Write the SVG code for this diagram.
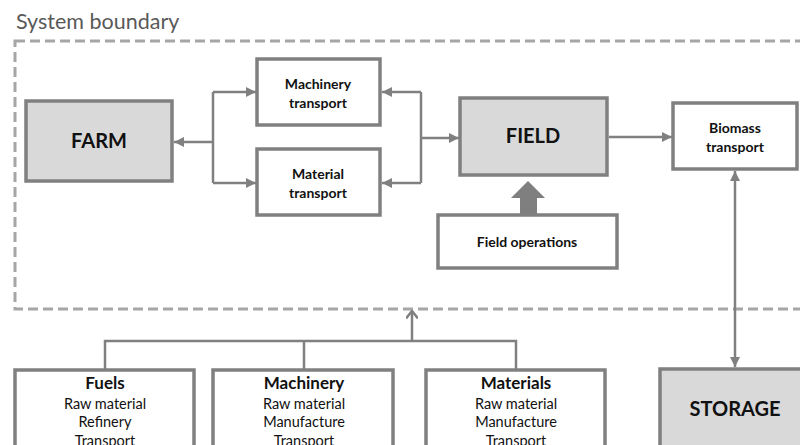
<svg xmlns="http://www.w3.org/2000/svg" width="800" height="445" viewBox="0 0 800 445">
<defs>
<style>
.box{fill:#ffffff;stroke:#808080;stroke-width:3.5}
.gbox{fill:#d9d9d9;stroke:#808080;stroke-width:3.5}
.ln{fill:none;stroke:#808080;stroke-width:2.5}
.t{font-family:Lato,"Open Sans","Liberation Sans",sans-serif;fill:#111;text-anchor:middle}
.b{font-weight:bold}
</style>
<marker id="ah" viewBox="0 0 10 10" refX="10" refY="5" markerWidth="10" markerHeight="10" markerUnits="userSpaceOnUse" orient="auto">
<path d="M0,0 L10,5 L0,10 Z" fill="#808080"/>
</marker>
<marker id="oh" viewBox="0 0 12 12" refX="6" refY="1.5" markerWidth="12" markerHeight="12" markerUnits="userSpaceOnUse" orient="0">
<path d="M0,9 L6,1.5 L12,9" fill="none" stroke="#808080" stroke-width="2.5"/>
</marker>
</defs>
<rect width="800" height="445" fill="#ffffff"/>
<text x="16" y="29" font-family="Lato,'Open Sans','Liberation Sans',sans-serif" font-size="21.5" fill="#595959">System boundary</text>
<rect id="boundary" x="15" y="41" width="800" height="268" fill="none" stroke="#a6a6a6" stroke-width="3" stroke-dasharray="10,5"/>

<g id="connectors">
<path class="ln" d="M213,142 H174" marker-end="url(#ah)"/>
<path class="ln" d="M213,92 V183"/>
<path class="ln" d="M213,92 H256" marker-end="url(#ah)"/>
<path class="ln" d="M213,183 H256" marker-end="url(#ah)"/>
<path class="ln" d="M421,92 V183"/>
<path class="ln" d="M421,92 H382" marker-end="url(#ah)"/>
<path class="ln" d="M421,183 H382" marker-end="url(#ah)"/>
<path class="ln" d="M421,138 H459" marker-end="url(#ah)"/>
<path class="ln" d="M609,137 H672" marker-end="url(#ah)"/>
<path class="ln" d="M735,190 V367" marker-end="url(#ah)"/>
<path class="ln" d="M735,190 V171" marker-end="url(#ah)"/>
<path d="M520,214 V198 H511 L528,181 L545,198 H537 V214 Z" fill="#7f7f7f"/>
<path class="ln" d="M105,370 V341 H516 V370"/>
<path class="ln" d="M304,341 V370"/>
<path class="ln" d="M412,341 V311" marker-end="url(#oh)"/>
</g>

<g id="farm">
<rect class="gbox" x="26" y="101" width="146" height="80"/>
<text class="t b" x="99" y="148" font-size="20">FARM</text>
</g>
<g id="machinery-transport">
<rect class="box" x="257" y="59" width="123" height="66"/>
<text class="t b" x="318" y="89" font-size="14">Machinery</text>
<text class="t b" x="318" y="108" font-size="14">transport</text>
</g>
<g id="material-transport">
<rect class="box" x="257" y="149" width="123" height="66"/>
<text class="t b" x="318" y="179" font-size="14">Material</text>
<text class="t b" x="318" y="198" font-size="14">transport</text>
</g>
<g id="field">
<rect class="gbox" x="460" y="98" width="147" height="77"/>
<text class="t b" x="533" y="143" font-size="20">FIELD</text>
</g>
<g id="biomass-transport">
<rect class="box" x="673" y="103" width="124" height="66"/>
<text class="t b" x="735" y="133" font-size="14">Biomass</text>
<text class="t b" x="735" y="152" font-size="14">transport</text>
</g>
<g id="field-operations">
<rect class="box" x="438" y="215" width="179" height="53"/>
<text class="t b" x="527" y="247" font-size="14">Field operations</text>
</g>
<g id="storage">
<rect class="gbox" x="660" y="369" width="150" height="90"/>
<text class="t b" x="735" y="416" font-size="20">STORAGE</text>
</g>
<g id="fuels">
<rect class="box" x="15" y="370" width="179" height="90"/>
<text class="t b" x="105" y="389" font-size="17">Fuels</text>
<text class="t" x="105" y="409" font-size="14.5">Raw material</text>
<text class="t" x="105" y="427" font-size="14.5">Refinery</text>
<text class="t" x="105" y="446" font-size="14.5">Transport</text>
</g>
<g id="machinery">
<rect class="box" x="213" y="370" width="180" height="90"/>
<text class="t b" x="304" y="389" font-size="17">Machinery</text>
<text class="t" x="304" y="409" font-size="14.5">Raw material</text>
<text class="t" x="304" y="427" font-size="14.5">Manufacture</text>
<text class="t" x="304" y="446" font-size="14.5">Transport</text>
</g>
<g id="materials">
<rect class="box" x="426" y="370" width="179" height="90"/>
<text class="t b" x="516" y="389" font-size="17">Materials</text>
<text class="t" x="516" y="409" font-size="14.5">Raw material</text>
<text class="t" x="516" y="427" font-size="14.5">Manufacture</text>
<text class="t" x="516" y="446" font-size="14.5">Transport</text>
</g>
</svg>
